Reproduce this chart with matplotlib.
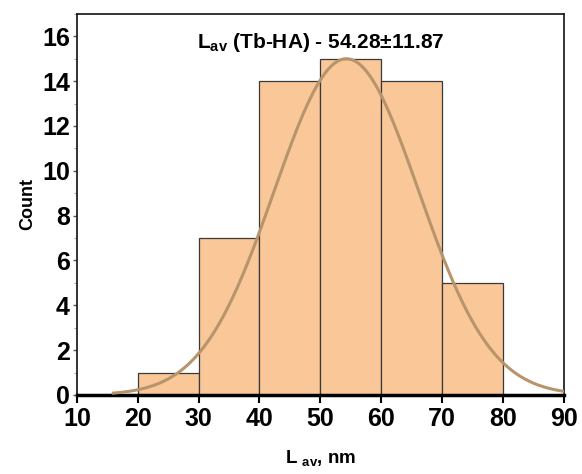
import numpy as np
import matplotlib
matplotlib.use("Agg")
import matplotlib.pyplot as plt
from matplotlib.ticker import MultipleLocator

plt.rcParams['font.family'] = ['Liberation Sans', 'DejaVu Sans']
plt.rcParams['mathtext.fontset'] = 'custom'
plt.rcParams['mathtext.rm'] = 'Liberation Sans:bold'
plt.rcParams['mathtext.bf'] = 'Liberation Sans:bold'
plt.rcParams['mathtext.it'] = 'Liberation Sans:bold'

# data
bin_left = [20, 30, 40, 50, 60, 70]
bin_width = 10
counts = [1, 7, 14, 15, 14, 5]
fit_mean = 54.28
fit_sd = 11.87
fit_peak = 15.0
fit_range = [16, 90]

fig = plt.figure(figsize=(5.82, 4.74), dpi=100)
ax = fig.add_axes([0.132, 0.1667, 0.837, 0.804])

ax.bar(bin_left, counts, width=bin_width, align='edge', color='#F9C798',
       edgecolor='#3a3a3a', linewidth=0.9, zorder=2)

xs = np.linspace(fit_range[0], fit_range[1], 400)
ys = fit_peak * np.exp(-(xs - fit_mean) ** 2 / (2 * fit_sd ** 2))
ax.plot(xs, ys, color='#B8946C', linewidth=2.2, zorder=3)

ax.set_xlim(10, 90)
ax.set_ylim(0, 17)
ax.xaxis.set_major_locator(MultipleLocator(10))
ax.yaxis.set_major_locator(MultipleLocator(2))
ax.yaxis.set_minor_locator(MultipleLocator(1))

for lab in ax.get_xticklabels() + ax.get_yticklabels():
    lab.set_fontsize(18)
    lab.set_fontweight('bold')

ax.tick_params(axis='x', which='major', length=6, width=1.5, direction='out', pad=3)
ax.tick_params(axis='y', which='major', length=3, width=1.0, direction='out', color='#555555', pad=2)
ax.tick_params(axis='y', which='minor', length=2, width=0.8, direction='out', color='#aaaaaa')
ax.tick_params(top=False, right=False)

for s in ['top', 'right', 'left']:
    ax.spines[s].set_linewidth(1.3)
    ax.spines[s].set_color('#222222')
ax.spines['bottom'].set_linewidth(2.5)
ax.spines['bottom'].set_color('black')

ax.text(0.5, 0.955, r'L$_{\rm av}$ (Tb-HA) - 54.28±11.87', transform=ax.transAxes,
        ha='center', va='top', fontsize=15, fontweight='bold')

ax.set_ylabel('Count', fontsize=13, fontweight='bold', labelpad=4)
ax.set_xlabel(r'L $_{\rm av}$, nm', fontsize=13.5, fontweight='bold', labelpad=12)

fig.savefig('out.png', dpi=100)
